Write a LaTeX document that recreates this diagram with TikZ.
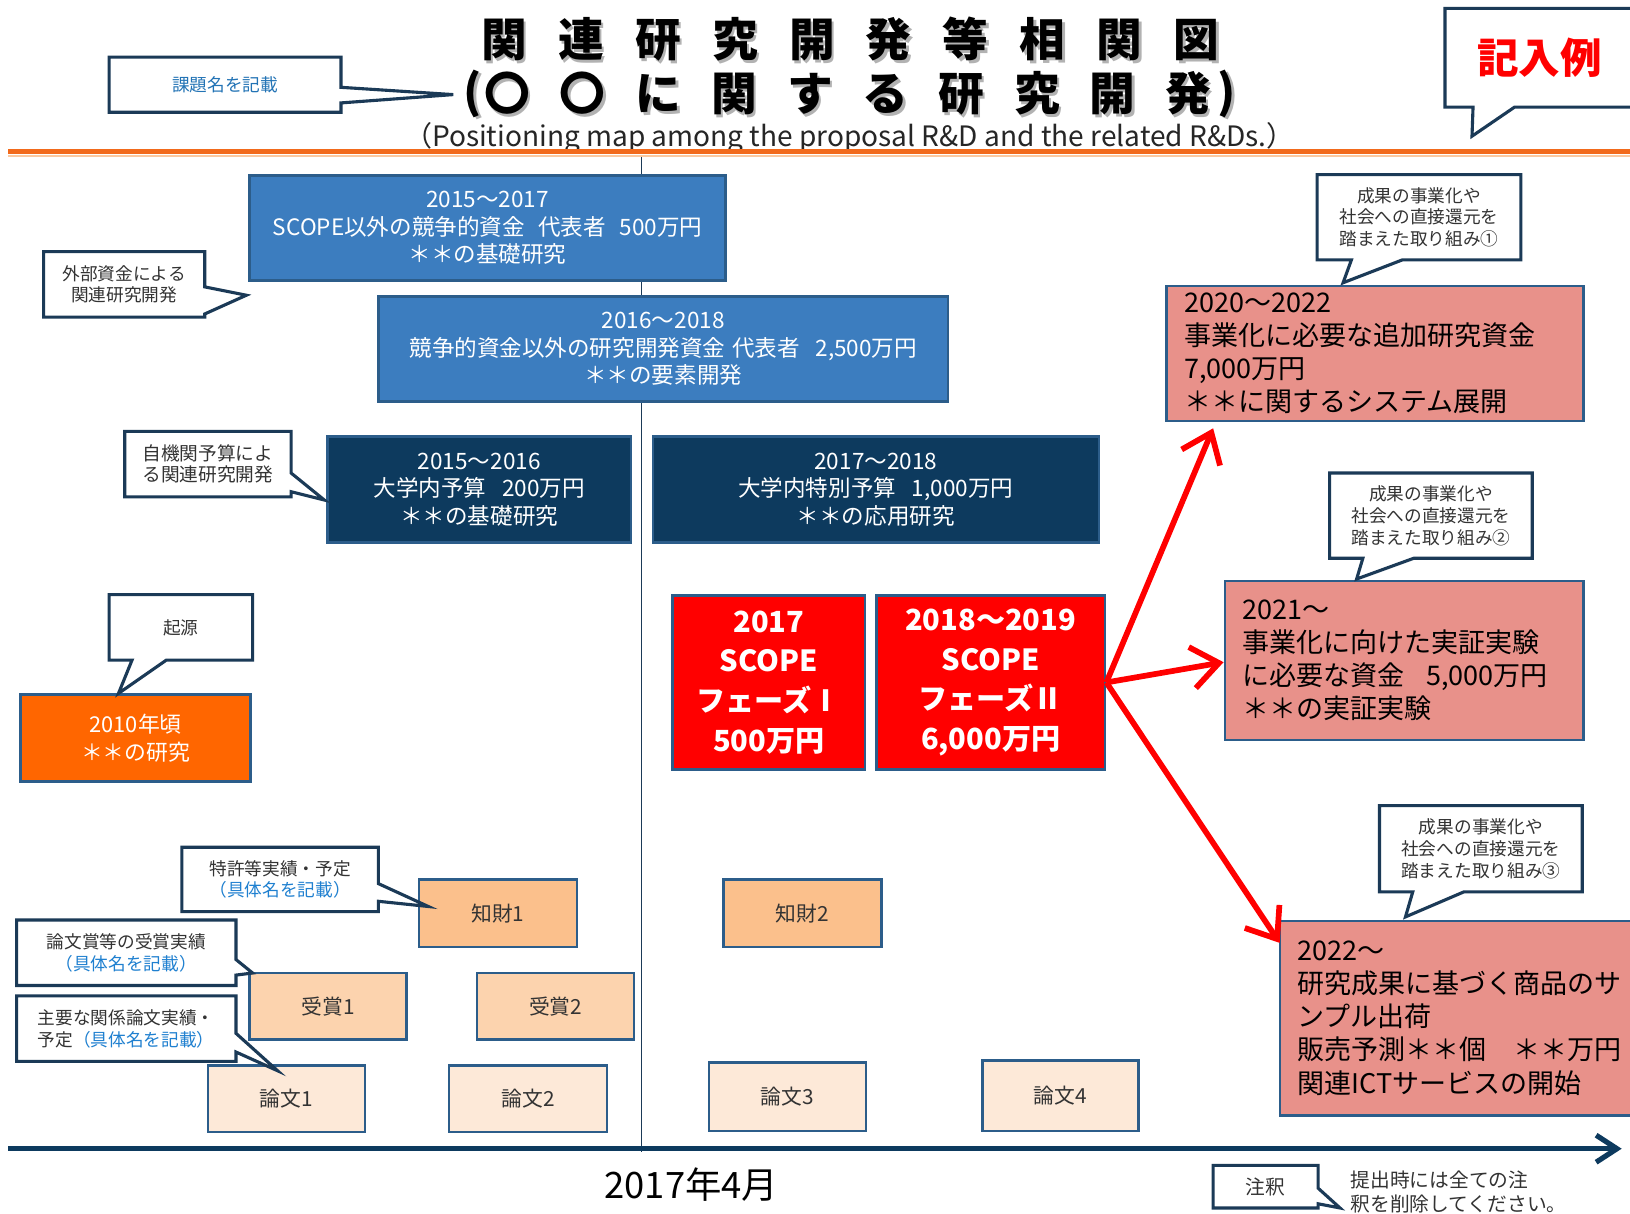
\documentclass[tikz,border=0pt]{standalone}
\usepackage{fontspec}
\setmainfont{Noto Sans CJK JP}
\usetikzlibrary{arrows.meta}
\definecolor{navyline}{HTML}{1B3A57}
\definecolor{boxedge}{HTML}{2C5D8A}
\definecolor{bluefill}{HTML}{3C7DBF}
\definecolor{navyfill}{HTML}{0D3A5E}
\definecolor{orangefill}{HTML}{FF6600}
\definecolor{pinkfill}{HTML}{E8918A}
\definecolor{kfill}{HTML}{FBC08C}
\definecolor{jfill}{HTML}{FCD3AE}
\definecolor{rfill}{HTML}{FDE9D8}
\definecolor{noteblue}{HTML}{1F80D0}
\definecolor{titleblue}{HTML}{2273B5}
\definecolor{topline}{HTML}{F26A1B}
\definecolor{toplight}{HTML}{FBC9A0}
\definecolor{txt}{HTML}{333333}
\newcommand\tca[1]{\makebox[74pt]{#1}}
\newcommand\tcb[1]{\makebox[72.8pt]{#1}}
\newcommand\calloutR[7]{\draw[callout] (#1,#2) -- (#3,#2) -- (#3,#5) -- #7 -- (#3,#6) -- (#3,#4) -- (#1,#4) -- cycle;}
\newcommand\calloutB[7]{\draw[callout] (#1,#2) -- (#3,#2) -- (#3,#4) -- (#6,#4) -- #7 -- (#5,#4) -- (#1,#4) -- cycle;}
\begin{document}
\begin{tikzpicture}[x=1pt,y=-1pt,
  box/.style={draw=boxedge, line width=2.5pt, inner sep=0pt, align=center},
  bluebox/.style={box, fill=bluefill, text=white, font=\fontsize{21.7}{26.5}\selectfont},
  navybox/.style={box, fill=navyfill, text=white, font=\fontsize{21.7}{26.5}\selectfont},
  redbox/.style={box, fill=red, text=white, font=\fontsize{28}{38.3}\selectfont\bfseries},
  pinkbox/.style={box, fill=pinkfill, text=black, align=left, inner xsep=17pt, font=\fontsize{26}{31.8}\selectfont},
  smallbox/.style={box, text=txt, font=\fontsize{20}{24}\selectfont},
  callout/.style={draw=navyline, fill=white, line width=3pt, line join=miter},
  ctext/.style={text=txt, align=center, inner sep=0pt, font=\fontsize{17}{21}\selectfont},
  titlefont/.style={font=\fontsize{44}{44}\selectfont\bfseries},
  redarrow/.style={draw=red, line width=5.5pt, -{Straight Barb[length=26pt,width=40pt]}},
]
\useasboundingbox (0,0) rectangle (1568,1167);
\clip (0,0) rectangle (1568,1167);
\fill[white] (0,0) rectangle (1568,1167);

% ---- title ----
\node[titlefont, text=black!30] (t1s) at (820.5,40.5) {\tca{関}\tca{連}\tca{研}\tca{究}\tca{開}\tca{発}\tca{等}\tca{相}\tca{関}\tca{図}};
\node[titlefont] (t1) at (818,38) {\tca{関}\tca{連}\tca{研}\tca{究}\tca{開}\tca{発}\tca{等}\tca{相}\tca{関}\tca{図}};
\node[titlefont, text=black!30] (t2s) at (818,92.5) {\tcb{〇}\tcb{〇}\tcb{に}\tcb{関}\tcb{す}\tcb{る}\tcb{研}\tcb{究}\tcb{開}\tcb{発}};
\node[titlefont] (t2) at (815.5,90) {\tcb{〇}\tcb{〇}\tcb{に}\tcb{関}\tcb{す}\tcb{る}\tcb{研}\tcb{究}\tcb{開}\tcb{発}};
\node[titlefont, text=black!30] (plS) at (457.5,92.5) {(};
\node[titlefont] (pl) at (455,90) {(};
\node[titlefont, text=black!30] (prS) at (1182.5,92.5) {)};
\node[titlefont] (pr) at (1180,90) {)};
\node[font=\fontsize{27}{27}\selectfont, text=black!85] (sub) at (817,133) {（Positioning map among the proposal R\&D and the related R\&Ds.）};

% ---- top rule ----
\coordinate (tlL) at (8,145.5);
\coordinate (tlR) at (1568,145.5);
\coordinate (tl2L) at (8,150);
\coordinate (tl2R) at (1568,150);
\draw[topline, line width=4.5pt] (tlL) -- (tlR);
\draw[toplight, line width=1.5pt] (tl2L) -- (tl2R);

% ---- vertical line and axis ----
\coordinate (vtop) at (617,151);
\coordinate (vbot) at (617,1108);
\draw[navyline, line width=1.5pt] (vtop) -- (vbot);
\coordinate (axL) at (8,1105);
\coordinate (axR) at (1560,1105);
\draw[navyfill, line width=5pt, -{Straight Barb[length=20pt,width=26pt]}] (axL) -- (axR);

% ---- blue boxes ----
\node[bluebox, minimum width=458pt, minimum height=101pt] (b1) at (469,219.5)
  {2015〜2017\\SCOPE以外の競争的資金\hspace{0.6em}代表者\hspace{0.6em}500万円\\＊＊の基礎研究};
\node[bluebox, minimum width=548pt, minimum height=101pt] (b2) at (638,335.5)
  {2016〜2018\\競争的資金以外の研究開発資金\hspace{0.3em}代表者\hspace{0.7em}2,500万円\\＊＊の要素開発};
\node[navybox, minimum width=292pt, minimum height=102pt] (n1) at (461,471)
  {2015〜2016\\大学内予算\hspace{0.7em}200万円\\＊＊の基礎研究};
\node[navybox, minimum width=429pt, minimum height=102pt] (n2) at (842.5,471)
  {2017〜2018\\大学内特別予算\hspace{0.7em}1,000万円\\＊＊の応用研究};
\node[box, fill=orangefill, text=white, font=\fontsize{21}{26.5}\selectfont, minimum width=221pt, minimum height=84pt] (or) at (130.5,710)
  {2010年頃\\＊＊の研究};

% ---- SCOPE boxes ----
\node[redbox, minimum width=185pt, minimum height=167pt] (s1) at (739.5,656.5)
  {2017\\SCOPE\\フェーズⅠ\\500万円};
\node[redbox, minimum width=220pt, minimum height=167pt] (s2) at (953,656.5)
  {2018〜2019\\SCOPE\\フェーズⅡ\\6,000万円};

% ---- pink boxes ----
\node[pinkbox, text width=367pt, minimum height=130pt, anchor=west] (p1) at (1121,340)
  {2020〜2022\\事業化に必要な追加研究資金\\7,000万円\\ ＊＊に関するシステム展開};
\node[pinkbox, text width=311pt, minimum height=153pt, anchor=west] (p2) at (1177,635.5)
  {2021〜\\事業化に向けた実証実験\\に必要な資金\hspace{0.8em}5,000万円\\ ＊＊の実証実験};
\node[pinkbox, text width=318pt, minimum height=187pt, anchor=west] (p3) at (1230,979.5)
  {2022〜\\研究成果に基づく商品のサ\\ンプル出荷\\販売予測＊＊個\hspace{1em}＊＊万円\\関連ICTサービスの開始};

% ---- red arrows ----
\coordinate (a1) at (1167,412);
\coordinate (a2) at (1177,637);
\coordinate (a3) at (1231,907);
\draw[redarrow] (s2.east) -- (a1);
\draw[redarrow] (s2.east) -- (a2);
\draw[redarrow] (s2.east) -- (a3);

% ---- small boxes ----
\node[smallbox, fill=kfill, minimum width=152pt, minimum height=65pt] (k1) at (479,878.5) {知財1};
\node[smallbox, fill=kfill, minimum width=152pt, minimum height=65pt] (k2) at (772,878.5) {知財2};
\node[smallbox, fill=jfill, minimum width=151pt, minimum height=64pt] (j1) at (315.5,968) {受賞1};
\node[smallbox, fill=jfill, minimum width=151pt, minimum height=64pt] (j2) at (534.5,968) {受賞2};
\node[smallbox, fill=rfill, minimum width=151pt, minimum height=64pt] (r1) at (275.5,1057) {論文1};
\node[smallbox, fill=rfill, minimum width=152pt, minimum height=64pt] (r2) at (508,1057) {論文2};
\node[smallbox, fill=rfill, minimum width=151pt, minimum height=66pt] (r3) at (757.5,1055) {論文3};
\node[smallbox, fill=rfill, minimum width=150pt, minimum height=68pt] (r4) at (1020,1054) {論文4};

% ---- callouts ----
\calloutR{105}{55}{328}{108}{84}{99}{(436,91)}
\node[ctext, text=titleblue] (c0) at (216.5,81.5) {課題名を記載};

\calloutB{1390}{8}{1580}{103}{1417}{1457}{(1416,131)}
\node[ctext, text=red, font=\fontsize{40}{40}\selectfont\bfseries] (c11) at (1481,56) {記入例};

\calloutR{42}{242}{197}{305}{276}{302}{(237,284)}
\node[ctext] (c1) at (119.5,273.5) {外部資金による\\関連研究開発};

\calloutR{120}{415}{280}{478}{455}{473}{(312,481)}
\node[ctext, font=\fontsize{18}{20}\selectfont] (c2) at (200,446.5) {自機関予算によ\\る関連研究開発};

\calloutB{105}{572}{243}{635}{127}{160}{(114,667)}
\node[ctext] (c3) at (174,603.5) {起源};

\calloutR{175}{815}{364}{877}{850}{867}{(412,872)}
\node[ctext] (c4) at (269.5,846) {特許等実績・予定\\\textcolor{noteblue}{（具体名を記載）}};

\calloutR{16}{885}{227}{948}{923}{938}{(243,936)}
\node[ctext] (c5) at (121.5,916.5) {論文賞等の受賞実績\\\textcolor{noteblue}{（具体名を記載）}};

\calloutR{16}{958}{227}{1021}{994}{1012}{(267,1030)}
\node[ctext] (c6) at (121.5,989.5) {主要な関係論文実績・\\予定\textcolor{noteblue}{（具体名を記載）}};

\calloutB{1267}{168}{1463}{250}{1300}{1349}{(1292,272)}
\node[ctext] (c7) at (1365,209) {成果の事業化や\\社会への直接還元を\\踏まえた取り組み①};

\calloutB{1279}{455}{1474}{537}{1311}{1360}{(1305,557)}
\node[ctext] (c8) at (1376.5,496) {成果の事業化や\\社会への直接還元を\\踏まえた取り組み②};

\calloutB{1327}{775}{1522}{858}{1359}{1408}{(1352,882)}
\node[ctext] (c9) at (1424.5,816.5) {成果の事業化や\\社会への直接還元を\\踏まえた取り組み③};

\calloutR{1167}{1121}{1268}{1162}{1143}{1158}{(1289,1162)}
\node[ctext, font=\fontsize{19}{19}\selectfont] (c10) at (1217.5,1141.5) {注釈};
\node[ctext, align=left, anchor=west, font=\fontsize{19}{23}\selectfont] (note) at (1299,1146.5) {提出時には全ての注\\釈を削除してください。};

% ---- date ----
\node[font=\fontsize{35}{35}\selectfont, text=black] (date) at (665,1140) {2017年4月};
\end{tikzpicture}
\end{document}
